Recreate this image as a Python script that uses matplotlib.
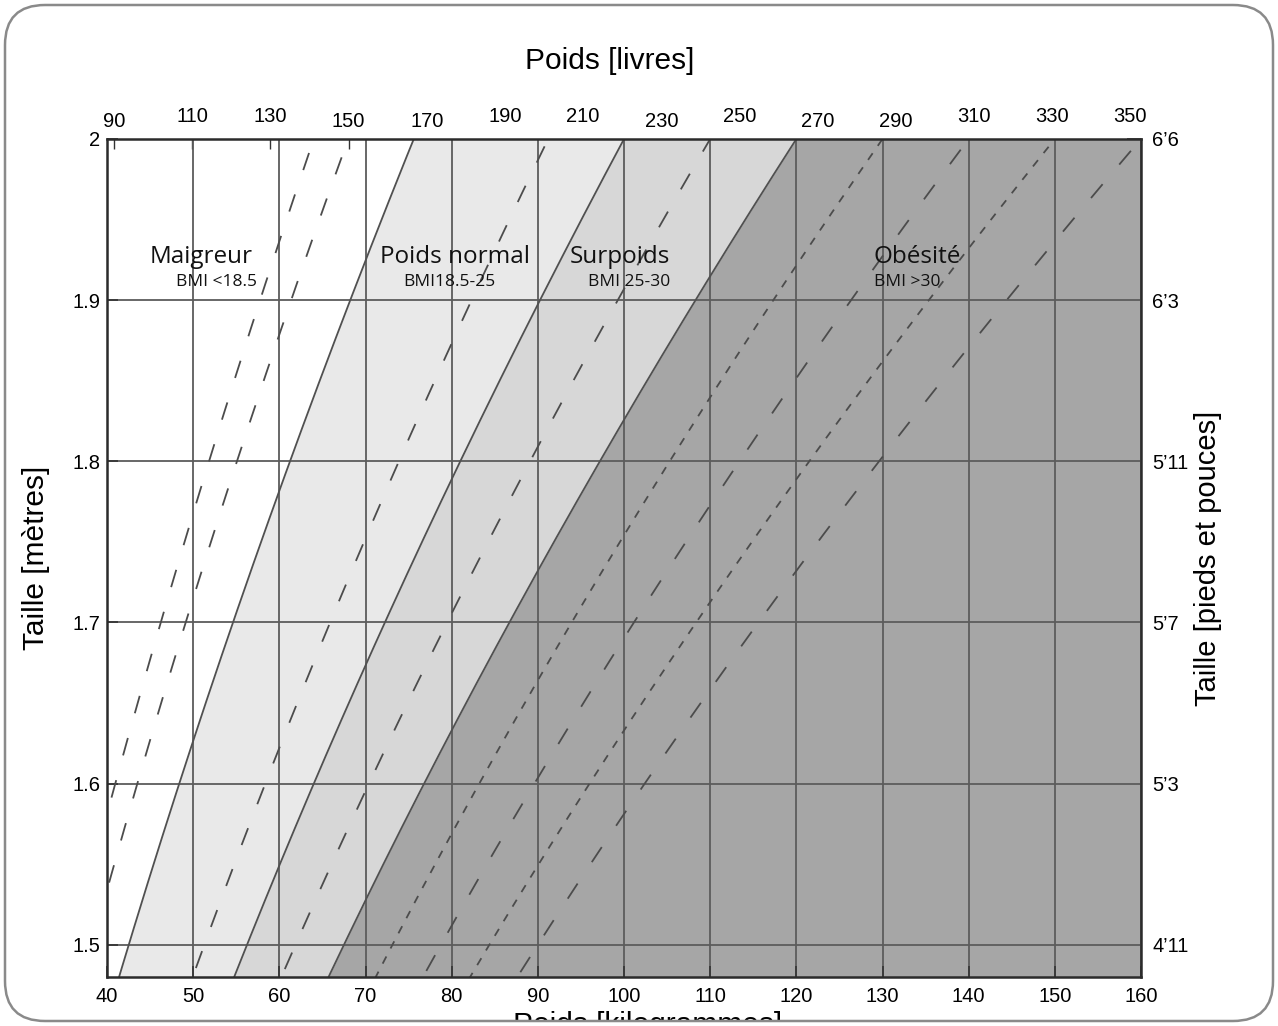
import numpy as np
import matplotlib
matplotlib.use("Agg")
import matplotlib.pyplot as plt
import matplotlib.transforms as mtransforms
from matplotlib.patches import FancyBboxPatch, Rectangle

plt.rcParams['font.family']       = ['Liberation Sans', 'DejaVu Sans']
plt.rcParams['lines.scale_dashes'] = False

# BMI levels as they are drawn on the chart
bmi_bounds  = [18.9, 25.0, 30.0]                    # solid class limits
bmi_long    = [16.0, 17.0, 22.8, 27.5, 35.0, 40.0]  # long dashes
bmi_short   = [32.5, 37.5]                          # short dashes

# class names and their BMI ranges
classes     = ['Maigreur', 'Poids normal', 'Surpoids', 'Obésité']
class_range = ['BMI <18.5', 'BMI18.5-25', 'BMI 25-30', 'BMI >30']
class_fill  = [None, '#e9e9e9', '#d7d7d7', '#a6a6a6']

# axes
kg_ticks    = [40, 50, 60, 70, 80, 90, 100, 110, 120, 130, 140, 150, 160]
m_ticks     = [1.5, 1.6, 1.7, 1.8, 1.9, 2.0]
m_labels    = ['1.5', '1.6', '1.7', '1.8', '1.9', '2']
ft_labels   = ['4’11', '5’3', '5’7', '5’11', '6’3', '6’6']
lb_ticks    = [90, 110, 130, 150, 170, 190, 210, 230, 250, 270, 290, 310, 330, 350]
lb_raised   = [110, 130, 190, 210, 250, 310, 330, 350]

KG_PER_LB = 0.45359237
W, H      = 1278, 1026


def kg2lb(x):
    return np.asarray(x) / KG_PER_LB


def lb2kg(x):
    return np.asarray(x) * KG_PER_LB


fig = plt.figure(figsize=(W / 100., H / 100.), dpi=100)
ax  = fig.add_axes([107. / W, 49. / H, 1034. / W, 838. / H])
ax.set_xlim(40, 160)
ax.set_ylim(1.48, 2.0)

# filled BMI classes
h      = np.linspace(1.46, 2.02, 200)
limits = [0.] + bmi_bounds + [None]
for i, col in enumerate(class_fill):
    if col is None:
        continue
    lo = limits[i] * h**2
    hi = limits[i + 1] * h**2 if limits[i + 1] is not None else np.full_like(h, 200.)
    ax.fill_betweenx(h, lo, hi, color=col, lw=0, zorder=0.2)

# iso-BMI lines
for b in bmi_bounds:
    ax.plot(b * h**2, h, color='#505050', lw=1.3, zorder=2)
for b in bmi_long:
    ax.plot(b * h**2, h, color='#4c4c4c', lw=1.3, dashes=(13, 18.5), zorder=2)
for b in bmi_short:
    ax.plot(b * h**2, h, color='#4c4c4c', lw=1.3, dashes=(5.8, 6.5), zorder=2)

ax.set_axisbelow(True)
ax.grid(True, color='#5c5c5c', lw=1.3)

ax.set_xticks(kg_ticks)
ax.set_yticks(m_ticks, labels=m_labels)
ax.tick_params(direction='in', length=8, width=1.2, color='#333333', labelsize=14.5)
ax.tick_params(axis='x', pad=7.5)
ax.tick_params(axis='y', pad=5)
for sp in ax.spines.values():
    sp.set_linewidth(1.8)
    sp.set_color('#2b2b2b')

# pounds on top
top = ax.secondary_xaxis('top', functions=(kg2lb, lb2kg))
top.set_xticks(lb_ticks)
top.tick_params(direction='in', length=7, width=1.0, color='#333333', labelsize=14.5)
for t, v in zip(top.xaxis.get_major_ticks(), lb_ticks):
    t.set_pad(9.3 if v in lb_raised else 5.7)
top.spines['top'].set_visible(False)
top.set_xlabel('Poids [livres]', fontsize=21.5)
top.xaxis.set_label_coords(0.486, 1.083, transform=ax.transAxes)

# feet and inches on the right
right = ax.secondary_yaxis('right')
right.set_yticks(m_ticks, labels=ft_labels)
right.tick_params(direction='in', length=10, width=1.2, color='#333333', labelsize=14.5, pad=8)
right.spines['right'].set_visible(False)
right.set_ylabel('Taille [pieds et pouces]', fontsize=21, rotation=90)
right.yaxis.set_label_coords(1.051, 0.5, transform=ax.transAxes)

ax.set_ylabel('Taille [mètres]', fontsize=21.5)
ax.yaxis.set_label_coords(-0.055, 0.5)
ax.set_xlabel('Poids [kilogrammes]', fontsize=21.5)
ax.xaxis.set_label_coords(0.523, -0.040)

# class labels
name_x  = [45.0, 71.7, 93.7, 129.0]
range_x = [48.0, 74.4, 95.8, 129.0]
for name, rng, xn, xr in zip(classes, class_range, name_x, range_x):
    ax.text(xn, 1.923, name, fontsize=17.5, family=['Open Sans', 'DejaVu Sans'],
            color='#111111', va='baseline', ha='left', zorder=3)
    ax.text(xr, 1.909, rng, fontsize=12.5, family=['Open Sans', 'DejaVu Sans'],
            color='#111111', va='baseline', ha='left', zorder=3)

# rounded frame, the image is cut just under it
ident = mtransforms.IdentityTransform()
fig.patches.append(Rectangle((0, 0), W, 5, transform=ident, facecolor='white',
                             edgecolor='none', zorder=5))
fig.patches.append(FancyBboxPatch((5, 5), W - 10, H - 10,
                                  boxstyle='round,pad=0,rounding_size=40',
                                  transform=ident, facecolor='none',
                                  edgecolor='#8a8a8a', lw=1.8, zorder=6))

fig.savefig('out.png', dpi=100)
